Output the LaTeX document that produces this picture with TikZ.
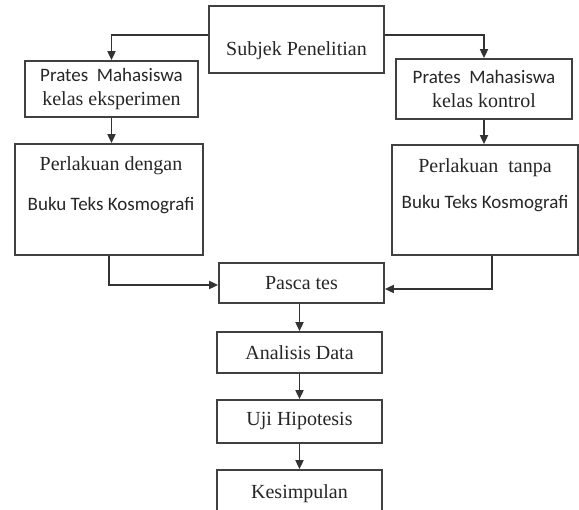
\documentclass[tikz,border=0pt]{standalone}
\usepackage{fontspec}
\setmainfont{Liberation Serif}
\newfontfamily\calibri{Carlito}
\newcommand{\hurufsans}[1]{{\calibri\fontsize{19}{24}\selectfont #1}}
\usetikzlibrary{arrows.meta}

\begin{document}
\begin{tikzpicture}[x=1pt, y=-1pt,
    kotak/.style={draw=black!75, line width=1.7pt, rectangle, inner sep=0pt, align=center, text=black!85, font=\fontsize{20}{24}\selectfont},
    teks/.style={inner sep=0pt, align=center, text=black!85, font=\fontsize{20}{24}\selectfont},
    panah/.style={draw=black!80, line width=1.7pt, -{Triangle[length=9pt,width=8pt]}}]
  \useasboundingbox (0,0) rectangle (579,510);
  % kotak-kotak
  \node[kotak, minimum width=175pt, minimum height=67pt] (subj) at (296.5,39.5) {};
  \node[teks] (subj-t) at (296.5,51) {Subjek Penelitian};
  \node[kotak, minimum width=173pt, minimum height=56pt] (prL) at (111.5,89) {\hurufsans{Prates~~Mahasiswa}\\kelas eksperimen};
  \node[kotak, minimum width=176pt, minimum height=60pt] (prR) at (484,89) {\hurufsans{Prates~~Mahasiswa}\\kelas kontrol};
  \node[kotak, minimum width=188pt, minimum height=111pt] (plL) at (109,199.5) {};
  \node[teks] (plL-t) at (111,185) {Perlakuan dengan\\[16pt]\hurufsans{Buku Teks Kosmografi}};
  \node[kotak, minimum width=186pt, minimum height=110pt] (plR) at (485,200) {};
  \node[teks] (plR-t) at (485,185) {Perlakuan~~tanpa\\[12pt]\hurufsans{Buku Teks Kosmografi}};
  \node[kotak, minimum width=165pt, minimum height=40pt] (pasca) at (301.5,283) {Pasca tes};
  \node[kotak, minimum width=165pt, minimum height=41pt] (anal) at (299.5,352.5) {Analisis Data};
  \node[kotak, minimum width=165pt, minimum height=43pt] (uji) at (299.5,421.5) {Uji Hipotesis};
  \node[kotak, minimum width=165pt, minimum height=48pt] (kes) at (299.5,494) {Kesimpulan};
  % panah
  \draw[panah] ([yshift=4.5pt]subj.west) -| (prL.north);
  \draw[panah] ([yshift=4.5pt]subj.east) -| (prR.north);
  \draw[panah] (prL.south) -- (prL.south |- plL.north);
  \draw[panah] (prR.south) -- (prR.south |- plR.north);
  \draw[panah] (plL.south) |- ([yshift=-2pt]pasca.west);
  \draw[panah] ([xshift=7pt]plR.south) |- ([yshift=-6pt]pasca.east);
  \draw[panah] (anal.north |- pasca.south) -- (anal.north);
  \draw[panah] (anal.south) -- (uji.north);
  \draw[panah] (uji.south) -- (kes.north);
\end{tikzpicture}
\end{document}
